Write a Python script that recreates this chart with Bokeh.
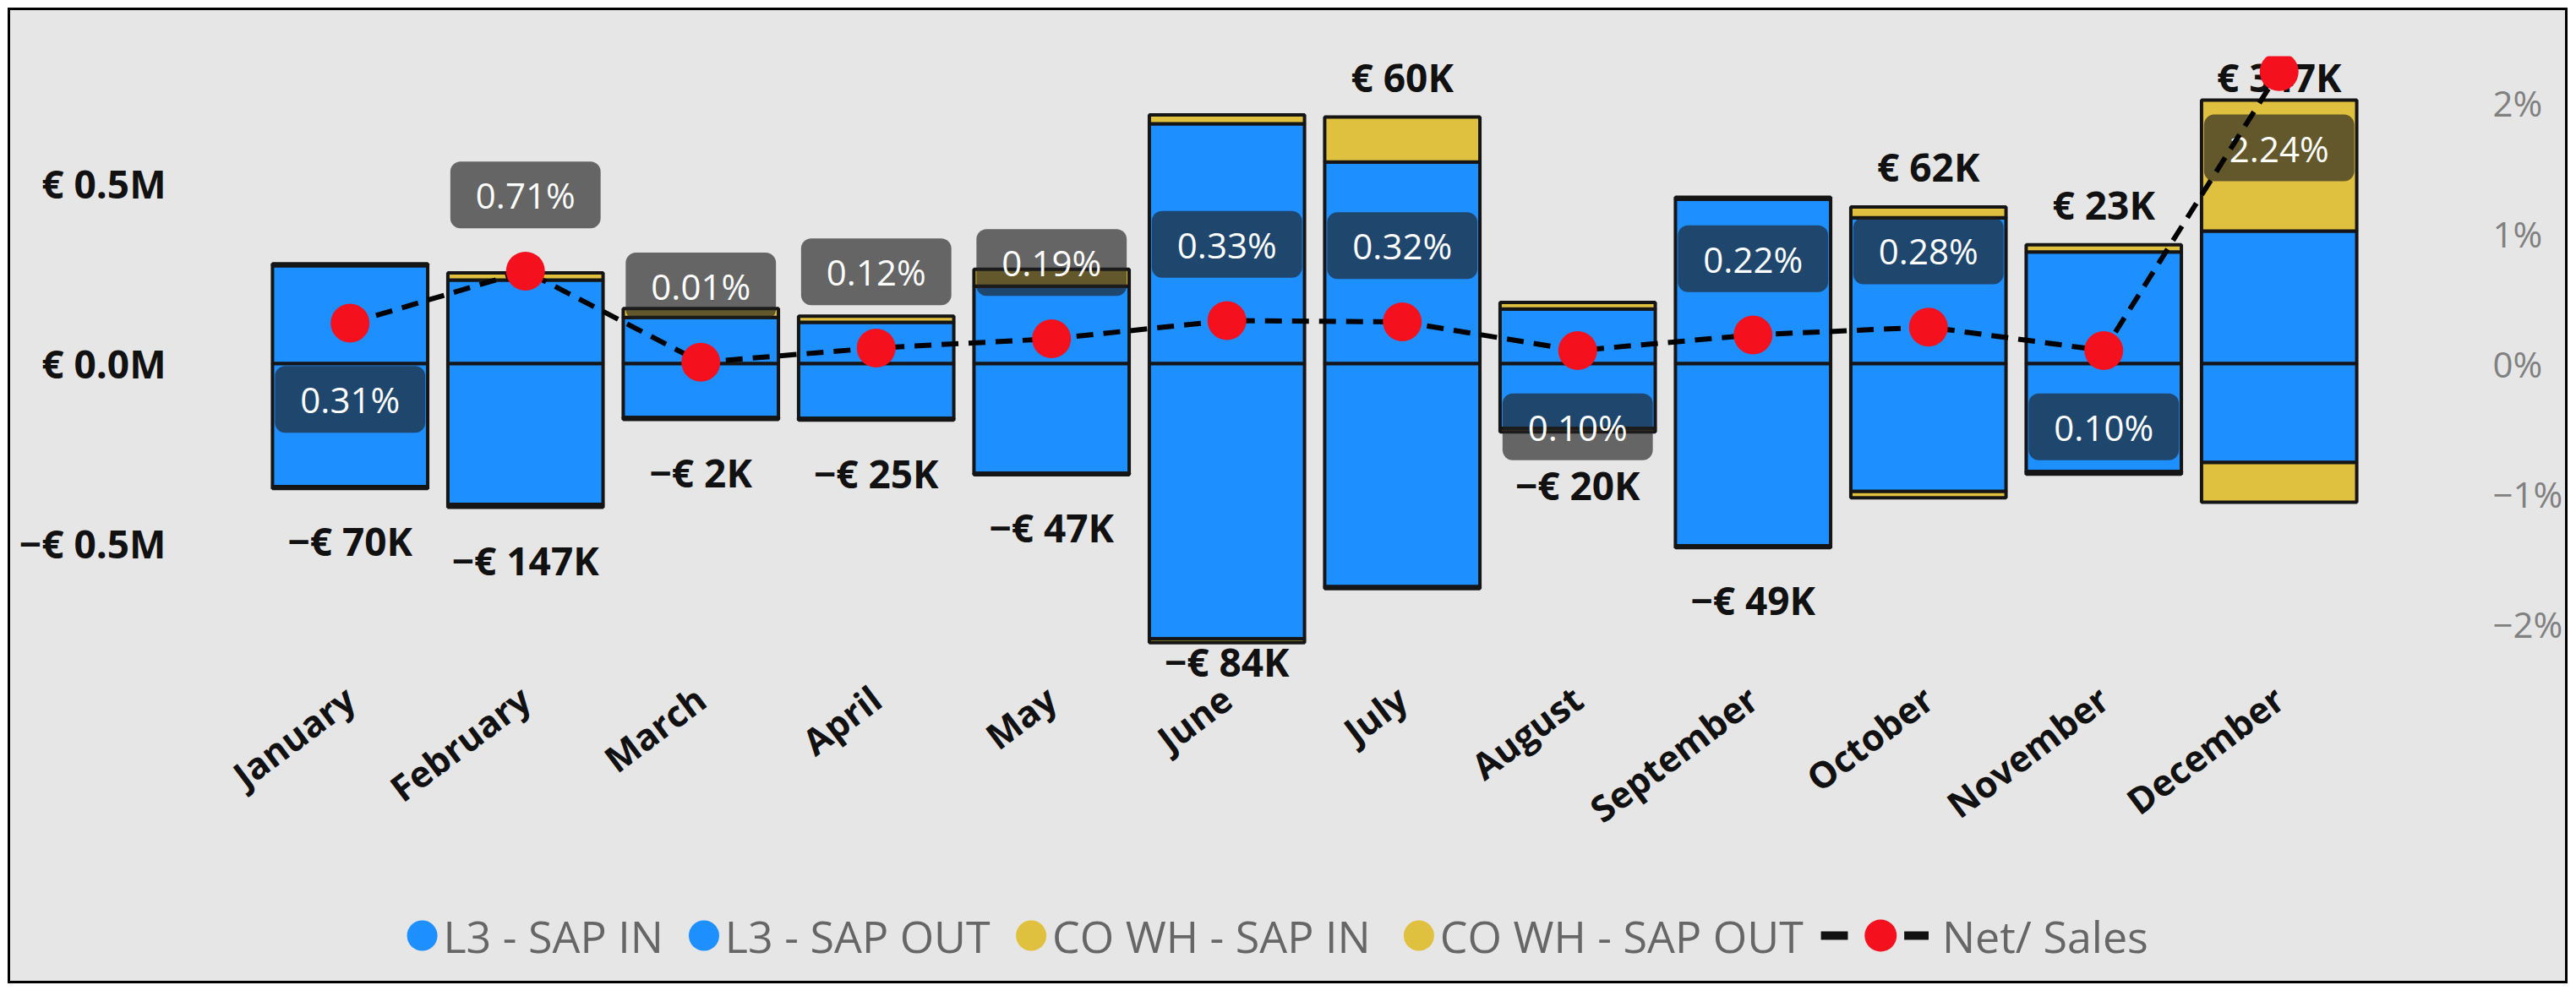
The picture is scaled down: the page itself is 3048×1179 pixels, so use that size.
import numpy as np
from bokeh.plotting import figure
from bokeh.layouts import column
from bokeh.models import (FactorRange, Range1d, LinearAxis, FixedTicker, ColumnDataSource)
from bokeh.core.properties import value
from bokeh.embed import file_html
from bokeh.resources import INLINE

# ---------------- data (values in K€, percentages in %) ----------------
months = ["January", "February", "March", "April", "May", "June", "July",
          "August", "September", "October", "November", "December"]
l3_sap_in = [272, 232, 128, 115, 215, 666, 560, 152, 457, 405, 310, 368]
co_wh_sap_in = [5, 20, 25, 17, 47, 25, 125, 18, 5, 30, 20, 364]
l3_sap_out = [-342, -391, -150, -152, -305, -765, -620, -180, -506, -355, -300, -275]
co_wh_sap_out = [-5, -8, -5, -5, -4, -10, -5, -10, -5, -18, -7, -110]
net_sales_pct = [0.31, 0.71, 0.01, 0.12, 0.19, 0.33, 0.32, 0.10, 0.22, 0.28, 0.10, 2.24]
pct_label_side = [-1, 1, 1, 1, 1, 1, 1, -1, 1, 1, -1, -1]   # 1 = above dot, -1 = below

left_ticks = [-500, 0, 500]
left_tick_labels = ["\u2212\u20ac 0.5M", "\u20ac 0.0M", "\u20ac 0.5M"]
right_ticks = [-2, -1, 0, 1, 2]
right_tick_labels = ["\u22122%", "\u22121%", "0%", "1%", "2%"]
series_names = ["L3 - SAP IN", "L3 - SAP OUT", "CO WH - SAP IN", "CO WH - SAP OUT", "Net/ Sales"]

# ---------------- styling ----------------
BG = "#E6E6E6"
BLUE = "#1E8FFF"
YELLOW = "#DFC13F"
EDGE = "#151515"
RED = "#F5101E"
FONT_NAME = "Open Sans"
FONT = value(FONT_NAME)

Y_MIN, Y_MAX = -885, 854
K_PER_PCT = 362.0

a = np.array(l3_sap_in, float)
b = np.array(co_wh_sap_in, float)
c = np.array(l3_sap_out, float)
d = np.array(co_wh_sap_out, float)
net = a + b + c + d
top = a + b
bottom = c + d
label_y = np.where(net >= 0, np.minimum(top + 113, Y_MAX - 58), np.maximum(bottom - 146, Y_MIN + 58))
net_labels = [("\u20ac %dK" % round(v)) if v >= 0 else ("\u2212\u20ac %dK" % round(-v)) for v in net]
pct = np.array(net_sales_pct)
pct_label_y = pct + 0.585 * np.array(pct_label_side)
pct_labels = ["%.2f%%" % v for v in pct]

src = ColumnDataSource(dict(month=months, l3_in=a, co_in_top=top, l3_out=c, co_out_bot=bottom,
                            label_y=label_y, net_label=net_labels, pct=pct,
                            pct_label_y=pct_label_y, pct_label=pct_labels))

W_TOTAL = 3023
H_MAIN = 1041
H_LEG = 108
MB_LEFT, MB_RIGHT = 298, 223

p = figure(x_range=FactorRange(factors=months), y_range=Range1d(Y_MIN, Y_MAX),
           width=W_TOTAL, height=H_MAIN, output_backend="svg", toolbar_location=None,
           min_border_left=MB_LEFT, min_border_right=MB_RIGHT, min_border_top=54, min_border_bottom=246,
           background_fill_color=BG, border_fill_color=BG, outline_line_color=None)
p.extra_y_ranges = {"pct": Range1d(Y_MIN / K_PER_PCT, Y_MAX / K_PER_PCT)}
p.xgrid.visible = False
p.ygrid.visible = False

# axes
p.yaxis.ticker = FixedTicker(ticks=left_ticks)
p.yaxis.major_label_overrides = dict(zip(left_ticks, left_tick_labels))
p.yaxis.axis_line_color = None
p.yaxis.major_tick_line_color = None
p.yaxis.minor_tick_line_color = None
p.yaxis.major_tick_out = 0
p.yaxis.major_label_standoff = 114
p.yaxis.major_label_text_font = FONT_NAME
p.yaxis.major_label_text_font_size = "46px"
p.yaxis.major_label_text_font_style = "bold"
p.yaxis.major_label_text_color = "#111111"

ax2 = LinearAxis(y_range_name="pct", ticker=FixedTicker(ticks=right_ticks),
                 major_label_overrides=dict(zip(right_ticks, right_tick_labels)))
ax2.axis_line_color = None
ax2.major_tick_line_color = None
ax2.minor_tick_line_color = None
ax2.major_tick_out = 0
ax2.major_label_standoff = 149
ax2.major_label_text_align = "center"
ax2.major_label_text_font = FONT_NAME
ax2.major_label_text_font_size = "42px"
ax2.major_label_text_color = "#808080"
p.add_layout(ax2, "right")

p.xaxis.axis_line_color = None
p.xaxis.major_tick_line_color = None
p.xaxis.major_tick_out = 0
p.xaxis.major_label_orientation = 0.645
p.xaxis.major_label_standoff = 14
p.xaxis.major_label_text_font = FONT_NAME
p.xaxis.major_label_text_font_size = "43px"
p.xaxis.major_label_text_font_style = "bold"
p.xaxis.major_label_text_color = "#111111"

# stacked bars
W = 0.885
p.vbar(x="month", bottom=0, top="l3_in", width=W, source=src, fill_color=BLUE, line_color=EDGE, line_width=4)
p.vbar(x="month", bottom="l3_in", top="co_in_top", width=W, source=src, fill_color=YELLOW, line_color=EDGE, line_width=4)
p.vbar(x="month", bottom=0, top="l3_out", width=W, source=src, fill_color=BLUE, line_color=EDGE, line_width=4)
p.vbar(x="month", bottom="l3_out", top="co_out_bot", width=W, source=src, fill_color=YELLOW, line_color=EDGE, line_width=4)

# percentage labels (boxes)
p.text(x="month", y="pct_label_y", text="pct_label", y_range_name="pct", source=src,
       text_align="center", text_baseline="middle", text_font=FONT, text_font_size="42px",
       text_color="white", background_fill_color="#202020", background_fill_alpha=0.65,
       border_radius=12, padding=dict(left=30, right=30, top=11, bottom=11))

# net total labels
p.text(x="month", y="label_y", text="net_label", source=src, text_align="center",
       text_baseline="middle", text_font=FONT, text_font_size="46px", text_font_style="bold",
       text_color="#111111")

# Net/Sales line + dots
p.line(x="month", y="pct", y_range_name="pct", source=src, line_color="black",
       line_width=6, line_dash="20 12")
p.scatter(x="month", y="pct", y_range_name="pct", source=src, size=46,
          fill_color=RED, line_color=None)

# ---------------- legend strip (separate figure below the chart, canvas-pixel coordinates) ----------------
leg_marker_x = [488, 823, 1212, 1673]        # circle centres of the four bar-series entries
leg_marker_colors = [BLUE, BLUE, YELLOW, YELLOW]
leg_text_gap = 25
net_leg_dash_x0 = [2151, 2250]
net_leg_dash_x1 = [2183, 2279]
net_leg_dot_x = 2222
net_leg_text_x = 2295

lg = figure(width=W_TOTAL, height=H_LEG, output_backend="svg", toolbar_location=None,
            x_range=Range1d(MB_LEFT, W_TOTAL - MB_RIGHT), y_range=Range1d(0, H_LEG),
            x_axis_location=None, y_axis_location=None,
            min_border_left=MB_LEFT, min_border_right=MB_RIGHT, min_border_top=0, min_border_bottom=0,
            background_fill_color=BG, border_fill_color=BG, outline_line_color=None)
lg.xgrid.visible = False
lg.ygrid.visible = False
mid = H_LEG / 2
lg.scatter(x=leg_marker_x, y=[mid] * 4, size=36, fill_color=leg_marker_colors, line_color=None)
lg.text(x=[xx + leg_text_gap for xx in leg_marker_x], y=[mid] * 4, text=series_names[:4],
        text_align="left", text_baseline="middle", text_font=FONT, text_font_size="52px",
        text_color="#666666")
lg.segment(x0=net_leg_dash_x0, x1=net_leg_dash_x1, y0=[mid, mid], y1=[mid, mid],
           line_color="#111111", line_width=10)
lg.scatter(x=[net_leg_dot_x], y=[mid], size=38, fill_color=RED, line_color=None)
lg.text(x=[net_leg_text_x], y=[mid], text=[series_names[4]], text_align="left",
        text_baseline="middle", text_font=FONT, text_font_size="52px", text_color="#666666")

layout = column(p, lg, spacing=0)
layout.styles = {"border": "3px solid #000000", "margin": "9px 0 0 9px", "background-color": BG}

open("out.html", "w").write(file_html(layout, INLINE))
